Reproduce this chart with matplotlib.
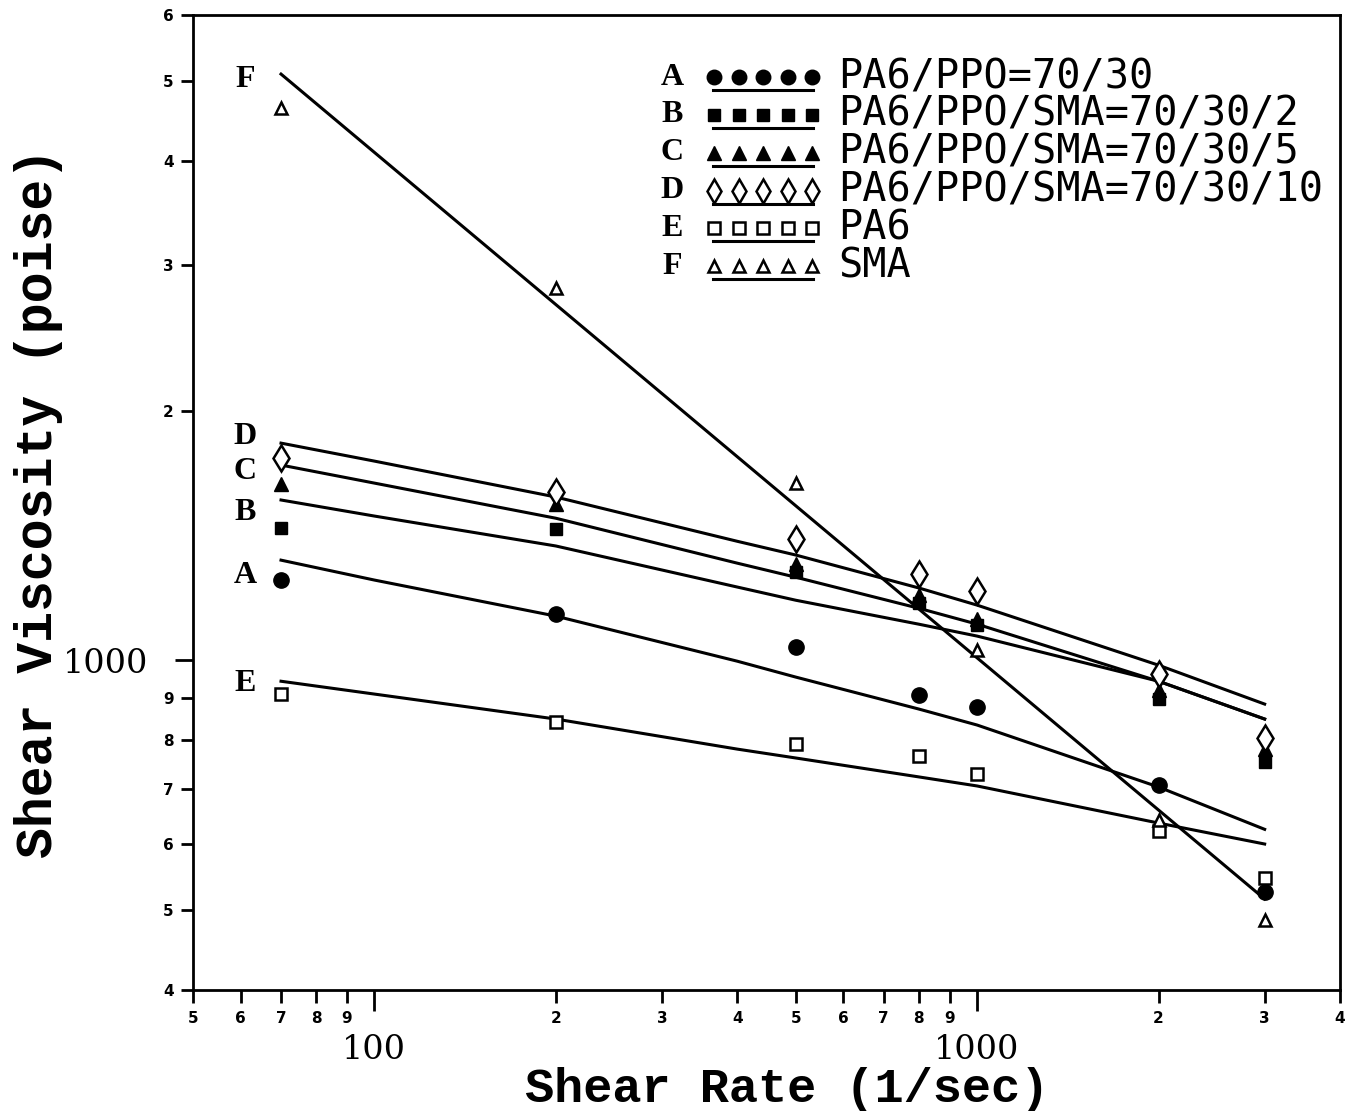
import numpy as np
import matplotlib
matplotlib.use("Agg")
import matplotlib.pyplot as plt
from matplotlib.ticker import FixedLocator, FixedFormatter

# measured shear rates (1/sec)
rates = [70, 200, 500, 800, 1000, 2000, 3000]

# viscosity data (poise)
visc_A = [1249, 1136, 1037, 907, 878, 707, 525]
visc_B = [1443, 1440, 1277, 1172, 1102, 897, 753]
visc_C = [1631, 1542, 1306, 1198, 1121, 920, 781]
visc_D = [1753, 1594, 1400, 1270, 1211, 962, 805]
visc_E = [910, 842, 792, 766, 729, 622, 546]
visc_F = [4634, 2810, 1635, None, 1028, 641, 486]

# fitted curves
fit_rates = [70, 100, 200, 400, 500, 800, 1000, 2000, 3000]
fit_A = [1320, 1249, 1130, 997, 954, 873, 835, 703, 625]
fit_B = [1560, 1492, 1373, 1225, 1181, 1105, 1069, 943, 849]
fit_C = [1719, 1635, 1483, 1309, 1259, 1155, 1105, 943, 849]
fit_D = [1827, 1738, 1573, 1391, 1339, 1222, 1165, 986, 885]
fit_E = [943, 910, 849, 781, 762, 723, 705, 636, 600]
fit_F_rates = [70, 3000]
fit_F = [5092, 515]

letters = ['A', 'B', 'C', 'D', 'E', 'F']
labels = ['PA6/PPO=70/30', 'PA6/PPO/SMA=70/30/2', 'PA6/PPO/SMA=70/30/5',
          'PA6/PPO/SMA=70/30/10', 'PA6', 'SMA']

x_major = [100, 1000]
x_major_lbl = ['100', '1000']
x_minor = [50, 60, 70, 80, 90, 200, 300, 400, 500, 600, 700, 800, 900,
           2000, 3000, 4000]
x_minor_lbl = ['5', '6', '7', '8', '9', '2', '3', '4', '5', '6', '7', '8', '9',
               '2', '3', '4']
y_major = [1000]
y_major_lbl = ['1000']
y_minor = [400, 500, 600, 700, 800, 900, 2000, 3000, 4000, 5000, 6000]
y_minor_lbl = ['4', '5', '6', '7', '8', '9', '2', '3', '4', '5', '6']

# marker styles per series
styles = {
    'A': dict(marker='o', ms=11, mfc='black', mec='black'),
    'B': dict(marker='s', ms=9, mfc='black', mec='black'),
    'C': dict(marker='^', ms=10, mfc='black', mec='black'),
    'D': dict(marker='d', ms=13, mfc='white', mec='black', mew=1.8),
    'E': dict(marker='s', ms=8.5, mfc='white', mec='black', mew=1.8),
    'F': dict(marker='^', ms=9, mfc='white', mec='black', mew=1.8),
}
# curve label heights (axes fraction)
curve_lbl_y = {'F': 0.934, 'D': 0.568, 'C': 0.532, 'B': 0.490, 'A': 0.425, 'E': 0.314}

fig = plt.figure(figsize=(13.55, 11.11), dpi=100)
ax = fig.add_axes([0.1424, 0.1089, 0.8465, 0.8776])
ax.set_xscale('log')
ax.set_yscale('log')
ax.set_xlim(50, 4000)
ax.set_ylim(400, 6000)

series = {'A': visc_A, 'B': visc_B, 'C': visc_C, 'D': visc_D, 'E': visc_E, 'F': visc_F}
fits = {'A': (fit_rates, fit_A), 'B': (fit_rates, fit_B), 'C': (fit_rates, fit_C),
        'D': (fit_rates, fit_D), 'E': (fit_rates, fit_E), 'F': (fit_F_rates, fit_F)}

for k in letters:
    fx, fy = fits[k]
    ax.plot(fx, fy, color='black', lw=2.2, zorder=2, solid_joinstyle='round')
    xs = [r for r, v in zip(rates, series[k]) if v is not None]
    ys = [v for v in series[k] if v is not None]
    ax.plot(xs, ys, ls='none', zorder=3, **styles[k])
    ax.text(0.0453, curve_lbl_y[k], k, transform=ax.transAxes, fontsize=23,
            fontweight='bold', family='Liberation Serif', ha='center', va='center')

# legend drawn by hand: letter, five markers, underline, text
row_y0 = 0.9364
row_dy = 0.0388
mk_x = np.linspace(0.4543, 0.5397, 5)
for i, k in enumerate(letters):
    yy = row_y0 - i * row_dy
    ax.text(0.4176, yy, k, transform=ax.transAxes, fontsize=23, fontweight='bold',
            family='Liberation Serif', ha='center', va='center')
    st = dict(styles[k])
    st['ms'] = st['ms'] * 0.95
    ax.plot(mk_x, [yy] * 5, ls='none', transform=ax.transAxes, clip_on=False, **st)
    ax.plot([0.4534, 0.5405], [yy - 0.0135] * 2, color='black', lw=2.2,
            transform=ax.transAxes)
    ax.text(0.5623, yy, labels[i], transform=ax.transAxes, fontsize=29,
            family='DejaVu Sans Mono', ha='left', va='center')

# ticks
ax.xaxis.set_major_locator(FixedLocator(x_major))
ax.xaxis.set_major_formatter(FixedFormatter(x_major_lbl))
ax.xaxis.set_minor_locator(FixedLocator(x_minor))
ax.xaxis.set_minor_formatter(FixedFormatter(x_minor_lbl))
ax.yaxis.set_major_locator(FixedLocator(y_major))
ax.yaxis.set_major_formatter(FixedFormatter(y_major_lbl))
ax.yaxis.set_minor_locator(FixedLocator(y_minor))
ax.yaxis.set_minor_formatter(FixedFormatter(y_minor_lbl))

ax.tick_params(axis='x', which='major', direction='out', length=15, width=2,
               labelsize=24, pad=17)
ax.tick_params(axis='x', which='minor', direction='out', length=9, width=2,
               labelsize=11, pad=6)
ax.tick_params(axis='y', which='major', direction='out', length=13, width=2,
               labelsize=24, pad=19)
ax.tick_params(axis='y', which='minor', direction='out', length=9, width=2,
               labelsize=11, pad=5)
for t in ax.get_xticklabels() + ax.get_yticklabels():
    t.set_family('DejaVu Serif')
for t in ax.get_xticklabels(minor=True) + ax.get_yticklabels(minor=True):
    t.set_family('DejaVu Sans')
    t.set_fontweight('heavy')

for s in ax.spines.values():
    s.set_linewidth(2)

ax.set_xlabel('Shear Rate (1/sec)', fontsize=35, family='Liberation Mono',
              fontweight='bold')
ax.set_ylabel('Shear Viscosity (poise)', fontsize=37, family='Liberation Mono',
              fontweight='bold')
ax.xaxis.set_label_coords(0.518, -0.079)
ax.yaxis.set_label_coords(-0.113, 0.50)

fig.savefig('out.png', dpi=100)
